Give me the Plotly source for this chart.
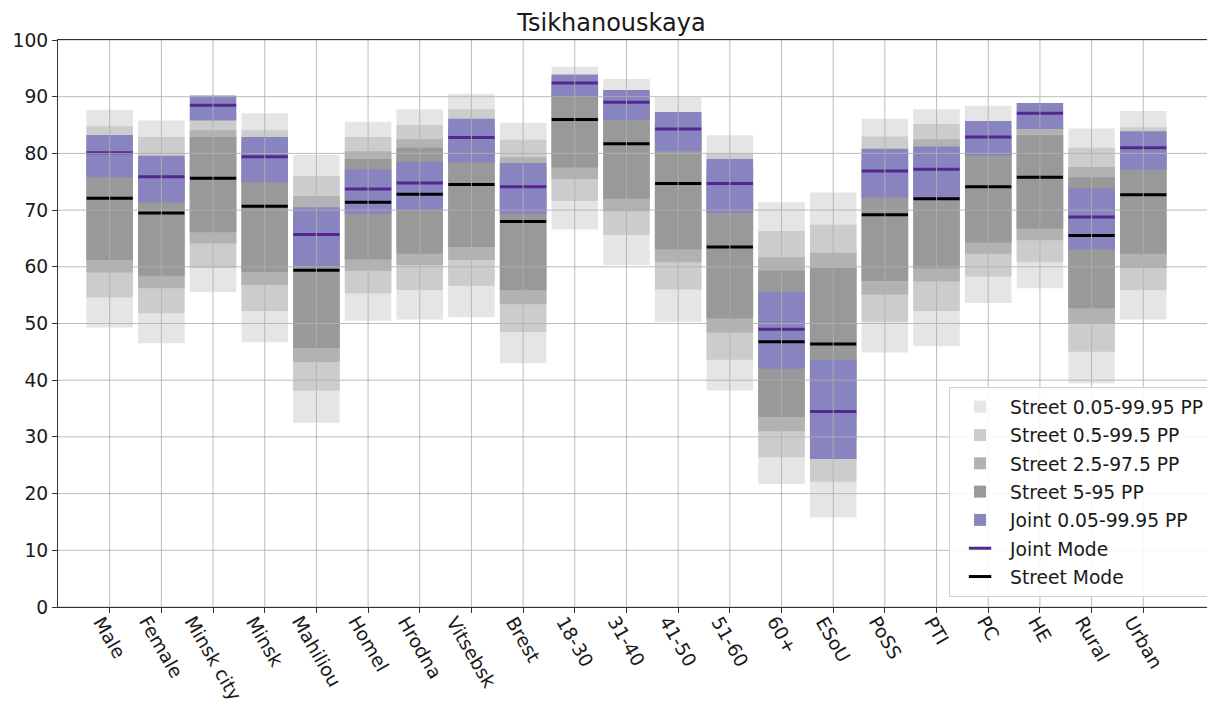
import plotly.graph_objects as go

# categories along the x axis
groups = ["Male", "Female", "Minsk city", "Minsk", "Mahiliou", "Homel", "Hrodna",
          "Vitsebsk", "Brest", "18-30", "31-40", "41-50", "51-60", "60+", "ESoU",
          "PoSS", "PTI", "PC", "HE", "Rural", "Urban"]

# street intervals (upper / lower bounds)
st_hi_005 = [87.7, 85.8, 88.5, 87.1, 79.7, 85.6, 87.8, 90.5, 85.4, 95.3, 93.1,
             89.9, 83.2, 71.4, 73.1, 86.1, 87.8, 88.4, 88.0, 84.4, 87.5]
st_lo_005 = [49.3, 46.5, 55.5, 46.7, 32.5, 50.5, 50.7, 51.1, 43.0, 66.6, 60.3,
             50.3, 38.2, 21.7, 15.8, 44.9, 46.0, 53.6, 56.2, 39.4, 50.7]
st_hi_05 = [84.8, 82.9, 87.0, 84.1, 76.0, 82.9, 85.0, 87.8, 82.4, 93.5, 91.0,
            87.0, 80.0, 66.3, 67.4, 83.0, 85.2, 85.0, 86.5, 81.0, 84.6]
st_lo_05 = [54.6, 51.8, 59.8, 52.2, 38.2, 55.3, 55.9, 56.6, 48.5, 71.6, 65.6,
            56.0, 43.6, 26.4, 22.1, 50.3, 52.2, 58.3, 60.8, 45.0, 55.9]
st_hi_25 = [82.5, 79.0, 84.1, 82.0, 72.5, 80.4, 82.5, 85.5, 79.3, 92.5, 89.5,
            85.5, 78.0, 61.7, 62.5, 80.0, 82.5, 83.0, 84.8, 77.6, 82.0]
st_lo_25 = [59.0, 56.2, 64.1, 56.8, 43.2, 59.3, 60.3, 61.2, 53.4, 75.5, 69.8,
            60.8, 48.4, 31.0, 29.5, 55.1, 57.4, 62.3, 64.7, 50.0, 59.8]
st_hi_5 = [80.5, 77.5, 82.9, 80.5, 70.3, 79.0, 81.0, 84.0, 77.0, 91.0, 88.0,
           84.0, 76.5, 59.3, 59.8, 78.5, 80.0, 81.0, 83.2, 75.8, 80.0]
st_lo_5 = [61.2, 58.4, 66.1, 59.1, 45.7, 61.3, 62.3, 63.5, 55.9, 77.5, 72.0,
           63.1, 50.9, 33.5, 33.0, 57.5, 59.7, 64.3, 66.7, 52.7, 62.3]

# joint interval and the two modes
jt_hi = [83.25, 79.6, 90.2, 82.9, 70.5, 77.2, 78.5, 86.1, 78.3, 93.9, 91.2,
         87.3, 79.0, 55.6, 43.6, 80.8, 81.2, 85.7, 88.9, 73.8, 83.9]
jt_lo = [75.8, 71.4, 85.8, 74.9, 60.0, 69.3, 70.0, 78.4, 69.3, 89.9, 85.9,
         80.4, 69.5, 42.0, 26.1, 72.2, 72.1, 79.6, 84.3, 63.1, 77.1]
joint_mode = [80.1, 75.9, 88.5, 79.4, 65.7, 73.7, 74.8, 82.8, 74.1, 92.4, 89.0,
              84.3, 74.7, 49.0, 34.5, 76.9, 77.2, 82.9, 87.1, 68.8, 81.0]
street_mode = [72.1, 69.5, 75.6, 70.7, 59.4, 71.4, 72.8, 74.5, 68.0, 86.0, 81.7,
               74.7, 63.5, 46.8, 46.4, 69.2, 72.0, 74.1, 75.8, 65.5, 72.7]

y_ticks = list(range(0, 101, 10))

bands = [
    ("Street 0.05-99.95 PP", st_lo_005, st_hi_005, "#e5e5e5"),
    ("Street 0.5-99.5 PP", st_lo_05, st_hi_05, "#cccccc"),
    ("Street 2.5-97.5 PP", st_lo_25, st_hi_25, "#b2b2b2"),
    ("Street 5-95 PP", st_lo_5, st_hi_5, "#999999"),
    ("Joint 0.05-99.95 PP", jt_lo, jt_hi, "#8884c0"),
]

fig = go.Figure()
for name, lo, hi, col in bands:
    fig.add_trace(go.Bar(x=groups, y=[h - l for h, l in zip(hi, lo)], base=lo,
                         name=name, legendgroup=name, marker_color=col,
                         marker_line_width=0, width=0.9))

for name, vals, col in [("Joint Mode", joint_mode, "#54278f"),
                        ("Street Mode", street_mode, "black")]:
    fig.add_trace(go.Scatter(x=groups, y=vals, mode="markers", name=name,
                             legendgroup=name,
                             marker=dict(symbol="line-ew", size=33,
                                         line=dict(width=3, color=col))))

# matplotlib-style grid drawn over the bars
grid = "rgba(176,176,176,0.85)"
shapes = []
for g in groups:
    shapes.append(dict(type="line", xref="x", yref="paper", x0=g, x1=g, y0=0, y1=1,
                       line=dict(color=grid, width=1), layer="above"))
for t in y_ticks:
    shapes.append(dict(type="line", xref="paper", yref="y", x0=0, x1=1, y0=t, y1=t,
                       line=dict(color=grid, width=1), layer="above"))

# rotated category labels, centred under each tick like matplotlib does
labels = [dict(x=g, xref="x", y=0, yref="paper", text=g, showarrow=False,
               textangle=60, xanchor="center", yanchor="top", yshift=-3,
               font=dict(size=18.7, color="#1a1a1a")) for g in groups]

# the page adds an 8px body margin, so the figure is a bit smaller than the window
fig.update_layout(
    width=1207, height=703,
    margin=dict(l=50, r=3, t=32, b=104, autoexpand=False),
    barmode="overlay",
    plot_bgcolor="white", paper_bgcolor="white",
    font=dict(family="DejaVu Sans", size=18.7, color="#1a1a1a"),
    title=dict(text="Tsikhanouskaya", x=0.5, xanchor="center", y=0.979,
               yanchor="middle", font=dict(size=24)),
    shapes=shapes,
    annotations=labels,
    legend=dict(x=0.9983, y=0.0176, xanchor="right", yanchor="bottom",
                bgcolor="rgba(255,255,255,0.85)", bordercolor="#d0d0d0",
                borderwidth=1, font=dict(size=18.7), tracegroupgap=1,
                itemwidth=50),
    showlegend=True,
)
fig.update_xaxes(range=[-1, 21.33], showgrid=False, showticklabels=False,
                 ticks="outside", ticklen=5, tickcolor="#333", automargin=False,
                 showline=True, linecolor="#333", mirror=True)
fig.update_yaxes(range=[0, 100], tickvals=y_ticks, showgrid=False, zeroline=False,
                 ticks="outside", ticklen=5, tickcolor="#333", automargin=False,
                 showline=True, linecolor="#333", mirror=True)

fig.write_html("out.html")
